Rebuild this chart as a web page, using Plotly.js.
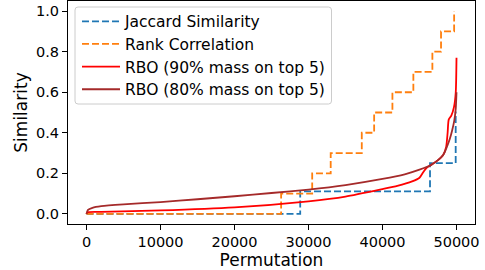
<!DOCTYPE html>
<html>
<head>
<meta charset="utf-8">
<script src="https://cdn.plot.ly/plotly-3.0.1.min.js"></script>
<style>html,body{margin:0;padding:0;background:#fff;}#chart{width:485px;height:270px;}</style>
</head>
<body>
<div id="chart"></div>
<script>
// Jaccard Similarity (step, value holds until next x)
var jaccardX = [0, 28880, 46420, 49890, 50000];
var jaccardY = [0, 0.111, 0.25, 0.5, 0.5];

// Rank Correlation (step)
var rankX = [0, 26300, 30500, 33000, 37200, 38870, 41340, 44170, 46740, 47910, 49680];
var rankY = [0, 0.1, 0.2, 0.3, 0.4, 0.5, 0.6, 0.7, 0.8, 0.9, 1.0];

// RBO (90% mass on top 5)
var rbo90X = [0, 100, 2000, 10000, 20000, 30000, 35000, 40000, 42000, 44000, 45000, 45500, 45900, 46500, 47500, 48200, 48600, 48800, 48950, 49300, 49650, 49900, 50000];
var rbo90Y = [0, 0.008, 0.01, 0.017, 0.032, 0.062, 0.085, 0.122, 0.138, 0.16, 0.178, 0.205, 0.225, 0.24, 0.265, 0.29, 0.33, 0.40, 0.465, 0.485, 0.525, 0.6, 0.77];

// RBO (80% mass on top 5)
var rbo80X = [0, 200, 800, 2000, 5000, 10000, 15000, 20000, 25000, 30000, 35000, 40000, 43000, 45000, 46500, 47500, 48200, 48700, 49100, 49400, 49700, 49900, 50000];
var rbo80Y = [0, 0.02, 0.03, 0.038, 0.047, 0.058, 0.072, 0.087, 0.103, 0.12, 0.142, 0.172, 0.195, 0.218, 0.24, 0.265, 0.29, 0.33, 0.37, 0.41, 0.46, 0.52, 0.60];

var seriesNames = ["Jaccard Similarity", "Rank Correlation", "RBO (90% mass on top 5)", "RBO (80% mass on top 5)"];
var xTickVals = [0, 10000, 20000, 30000, 40000, 50000];
var xTickText = ["0", "10000", "20000", "30000", "40000", "50000"];
var yTickVals = [0.0, 0.2, 0.4, 0.6, 0.8, 1.0];
var yTickText = ["0.0", "0.2", "0.4", "0.6", "0.8", "1.0"];

var legendIds = ["legend", "legend2", "legend3", "legend4"];

var traces = [
  {x: jaccardX, y: jaccardY, name: seriesNames[0], mode: "lines", legend: legendIds[0],
   line: {color: "#1f77b4", width: 1.8, dash: "7px,3px", shape: "hv"}},
  {x: rankX, y: rankY, name: seriesNames[1], mode: "lines", legend: legendIds[1],
   line: {color: "#ff7f0e", width: 1.8, dash: "7px,3px", shape: "hv"}},
  {x: rbo90X, y: rbo90Y, name: seriesNames[2], mode: "lines", legend: legendIds[2],
   line: {color: "#ff0000", width: 1.8, shape: "spline", smoothing: 0.6}},
  {x: rbo80X, y: rbo80Y, name: seriesNames[3], mode: "lines", legend: legendIds[3],
   line: {color: "#a52a2a", width: 1.8, shape: "spline", smoothing: 0.6}}
];

var font = "DejaVu Sans, sans-serif";
var plotTop = 1, plotH = 223, plotL = 68, plotW = 407;
function py(px) { return 1 - (px - plotTop) / plotH; }
function pxx(px) { return (px - plotL) / plotW; }

var layout = {
  width: 485, height: 270,
  margin: {l: plotL, r: 10, t: plotTop, b: 46},
  paper_bgcolor: "#ffffff", plot_bgcolor: "#ffffff",
  font: {family: font, color: "#000000", size: 14.5},
  showlegend: true,
  xaxis: {range: [-2500, 52500], tickvals: xTickVals, ticktext: xTickText, ticks: "outside", ticklen: 5, tickwidth: 1,
          tickcolor: "#000", showline: true, mirror: true, linecolor: "#000", linewidth: 1,
          showgrid: false, zeroline: false, tickfont: {size: 14.5},
          title: {text: "Permutation", font: {size: 17}, standoff: 2}},
  yaxis: {range: [-0.05, 1.05], tickvals: yTickVals, ticktext: yTickText, ticks: "outside", ticklen: 5, tickwidth: 1,
          tickcolor: "#000", showline: true, mirror: true, linecolor: "#000", linewidth: 1,
          showgrid: false, zeroline: false, tickfont: {size: 14.5},
          title: {text: "Similarity", font: {size: 17}, standoff: 4}},
  shapes: []
};

// legend frame (drawn above the data, like a matplotlib legend frame)
var fx0 = pxx(75), fx1 = pxx(331.5), fy0 = py(104), fy1 = py(7);
var rx = 3 / plotW, ry = 3 / plotH;
layout.shapes.push({
  type: "path", xref: "paper", yref: "paper", layer: "above",
  path: "M" + (fx0 + rx) + "," + fy1 + " L" + (fx1 - rx) + "," + fy1 + " Q" + fx1 + "," + fy1 + " " + fx1 + "," + (fy1 - ry) +
        " L" + fx1 + "," + (fy0 + ry) + " Q" + fx1 + "," + fy0 + " " + (fx1 - rx) + "," + fy0 +
        " L" + (fx0 + rx) + "," + fy0 + " Q" + fx0 + "," + fy0 + " " + fx0 + "," + (fy0 + ry) +
        " L" + fx0 + "," + (fy1 - ry) + " Q" + fx0 + "," + fy1 + " " + (fx0 + rx) + "," + fy1 + " Z",
  fillcolor: "rgba(255,255,255,0.8)", line: {color: "#cccccc", width: 1}
});

var entryCenters = [21.7, 44.3, 67, 89.7];
for (var i = 0; i < legendIds.length; i++) {
  layout[legendIds[i]] = {
    x: pxx(77), y: py(entryCenters[i]), xanchor: "left", yanchor: "middle", itemwidth: 38,
    bgcolor: "rgba(0,0,0,0)", borderwidth: 0,
    font: {family: font, size: 15.5, color: "#000000"}
  };
}

Plotly.newPlot("chart", traces, layout, {staticPlot: true, displayModeBar: false});
</script>
</body>
</html>
